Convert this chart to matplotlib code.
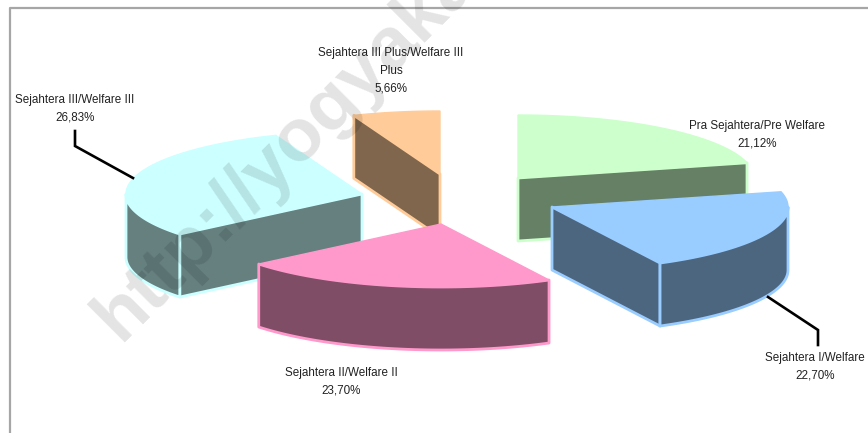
import numpy as np
import matplotlib
matplotlib.use("Agg")
import matplotlib.pyplot as plt
from matplotlib.patches import Polygon

plt.rcParams['font.family'] = ['Liberation Sans', 'DejaVu Sans']

# Data, clockwise from the top of the pie
categories = ["Pra Sejahtera/Pre Welfare", "Sejahtera I/Welfare", "Sejahtera II/Welfare II",
              "Sejahtera III/Welfare III", "Sejahtera III Plus/Welfare III\nPlus"]
values = [21.12, 22.70, 23.70, 26.83, 5.66]
value_labels = ["21,12%", "22,70%", "23,70%", "26,83%", "5,66%"]
colors = ["#CCFFCC", "#99CCFF", "#FF99CC", "#CCFFFF", "#FFCC99"]

# Layout of the exploded pie, in pixels
apex = [(518, 178), (552, 207), (441, 224), (362, 194), (440, 174)]
label_pos = [(757, 134.5), (815, 367), (341, 382), (75, 109), (391, 70.5)]
RX, RY, DEPTH = 236, 63, 63
# view distortion of the projected angle (true angle -> drawn angle)
warp_in = [0, 76, 158, 243, 340, 360]
warp_out = [0, 76, 153, 230.5, 339, 360]


def darker(c):
    rgb = np.array(matplotlib.colors.to_rgb(c))
    return tuple(rgb * 0.5)


def rim(cx, cy, t1, t2, dz=0):
    t = np.radians(np.linspace(t1, t2, 80))
    return np.column_stack([cx + RX * np.sin(t), cy - RY * np.cos(t) + dz])


fig = plt.figure(figsize=(8.68, 4.33), dpi=100, facecolor="white")
ax = fig.add_axes([0, 0, 1, 1])
ax.set_xlim(0, 868)
ax.set_ylim(433, 0)
ax.axis("off")

# chart frame
ax.plot([9.5, 9.5, 868], [433, 7.5, 7.5], color="#A6A6A6", lw=1.6, zorder=1, solid_capstyle="butt")

edges = np.concatenate([[0], np.cumsum(values)]) / np.sum(values) * 360
drawn = np.interp(edges, warp_in, warp_out)
draw_order = [0, 4, 3, 1, 2]

for n, i in enumerate(draw_order):
    t1, t2 = drawn[i], drawn[i + 1]
    cx, cy = apex[i]
    face, side = colors[i], darker(colors[i])
    z = 2 + n
    kw = dict(closed=True, facecolor=side, edgecolor=face, lw=2.0, joinstyle="round", zorder=z)
    for t, vis in ((t1, np.sin(np.radians(t1)) < -1e-6), (t2, np.sin(np.radians(t2)) > 1e-6)):
        if vis:
            p = rim(cx, cy, t, t, 0)[0]
            ax.add_patch(Polygon([(cx, cy), p, (p[0], p[1] + DEPTH), (cx, cy + DEPTH)], **kw))
    a, b = max(t1, 90), min(t2, 270)
    if b > a:
        top = rim(cx, cy, a, b)
        bot = rim(cx, cy, a, b, DEPTH)
        ax.add_patch(Polygon(np.vstack([top, bot[::-1]]), **kw))
    ax.add_patch(Polygon(np.vstack([[(cx, cy)], rim(cx, cy, t1, t2)]), closed=True,
                         facecolor=face, edgecolor=face, lw=1.0, zorder=z))

# leader lines
ax.plot([75, 75, 133], [131, 146, 178], color="black", lw=1.9, zorder=8, solid_joinstyle="miter")
ax.plot([768, 818, 818], [297, 330, 345], color="black", lw=1.9, zorder=8, solid_joinstyle="miter")

# labels
for name, val, (x, y) in zip(categories, value_labels, label_pos):
    ax.text(x, y, f"{name}\n{val}", ha="center", va="center", fontsize=8.35,
            color="#222222", linespacing=1.62, zorder=9)

# watermark
ax.text(120, 342, "http://yogyaka", rotation=45, rotation_mode="anchor",
        ha="left", va="baseline", fontsize=54, fontweight="bold", color="black",
        alpha=0.11, zorder=10, clip_on=True)

fig.savefig("out.png", dpi=100)
